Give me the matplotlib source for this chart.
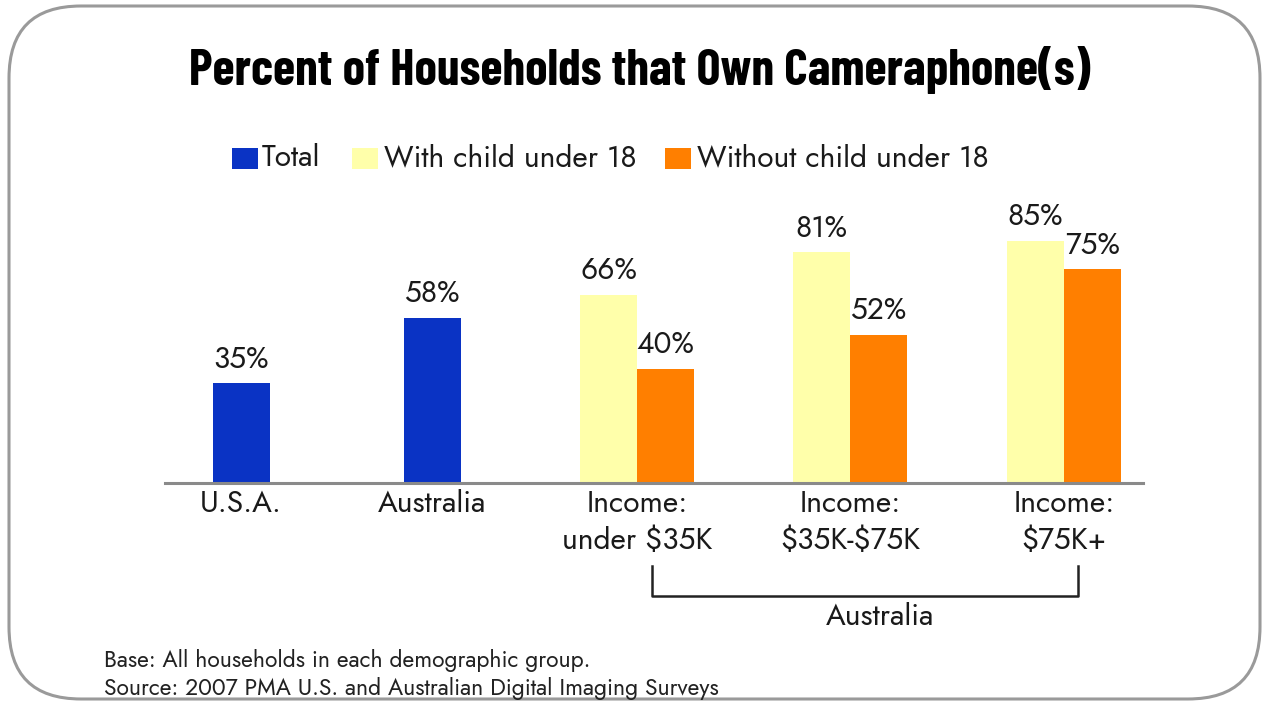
import matplotlib
matplotlib.use("Agg")
import matplotlib.pyplot as plt
from matplotlib import font_manager
from matplotlib.patches import FancyBboxPatch, Rectangle

# values (percent of households)
groups = ["U.S.A.", "Australia", "Income:\nunder $35K", "Income:\n$35K-$75K", "Income:\n$75K+"]
total = [35, 58]
with_child = [66, 81, 85]
without_child = [40, 52, 75]
series_names = ["Total", "With child under 18", "Without child under 18"]

blue = "#0a33c4"
yellow = "#ffffaa"
orange = "#ff7f00"
ink = "#1a1a1a"

installed = {f.name for f in font_manager.fontManager.ttflist}

def pick(*names):
    return [n for n in names if n in installed] + ["DejaVu Sans"]

body_font = pick("Jost", "Questrial", "Lato")
title_font = pick("Barlow Condensed", "Oswald", "Liberation Sans Narrow")

W, H = 1269, 701
fig = plt.figure(figsize=(W / 100, H / 100), dpi=100)

# overlay in pixel coordinates for the frame, legend keys and bracket
bg = fig.add_axes([0, 0, 1, 1])
bg.set_xlim(0, W)
bg.set_ylim(H, 0)
bg.axis("off")
bg.add_patch(FancyBboxPatch((9, 6), W - 18, H - 8,
                            boxstyle="round,pad=0,rounding_size=72",
                            fc="white", ec="#9a9a9a", lw=2.2))

# bar axes: baseline at y=483 px, 100% at 198 px
ax = fig.add_axes([165 / W, (H - 483) / H, (1143 - 165) / W, 285 / H])
ax.set_xlim(0, 978)
ax.set_ylim(0, 100)
for s in ax.spines.values():
    s.set_visible(False)
ax.set_xticks([])
ax.set_yticks([])
ax.axhline(0, color="#8a8a8a", lw=2.2, clip_on=False)

centers = [76, 267, 472, 685, 899]
bw = 57
fs = 21.5

def label(x, v):
    ax.text(x, v + 3, f"{v}%", ha="center", va="bottom",
            fontsize=fs, family=body_font, color=ink)

for c, v in zip(centers[:2], total):
    ax.bar(c, v, width=bw, color=blue)
    label(c, v)
for c, a, b in zip(centers[2:], with_child, without_child):
    ax.bar(c - bw / 2, a, width=bw, color=yellow)
    ax.bar(c + bw / 2, b, width=bw, color=orange)
    label(c - bw / 2, a)
    label(c + bw / 2, b)

for c, g in zip(centers, groups):
    ax.text(c, -2, g, ha="center", va="top", fontsize=fs, family=body_font,
            color=ink, linespacing=1.3, parse_math=False)

# title, sized to span 190..1090 px
title = fig.text(640 / W, 1 - 70 / H, "Percent of Households that Own Cameraphone(s)",
                 ha="center", va="center", fontsize=40, fontweight="bold",
                 family=title_font, color="black")
fig.canvas.draw()
tw = title.get_window_extent().width
title.set_fontsize(min(48, 40 * 900 / tw))

# legend
keys = [(232, blue, 262), (352, yellow, 384), (665, orange, 697)]
for (kx, col, tx), name in zip(keys, series_names):
    bg.add_patch(Rectangle((kx, 148), 26, 21, fc=col, ec="none"))
    bg.text(tx, 158, name, ha="left", va="center", fontsize=fs,
            family=body_font, color=ink)

# bracket under the Australian income groups
bg.plot([652, 652, 1078, 1078], [566, 596, 596, 566], color="#222222", lw=1.8)
bg.text(880, 617, "Australia", ha="center", va="center", fontsize=fs,
        family=body_font, color=ink)

# footnotes
bg.text(104, 660, "Base: All households in each demographic group.",
        ha="left", va="center", fontsize=16.5, family=body_font, color="#222222")
bg.text(104, 688, "Source: 2007 PMA U.S. and Australian Digital Imaging Surveys",
        ha="left", va="center", fontsize=16.5, family=body_font, color="#222222")

fig.savefig("out.png", dpi=100)
